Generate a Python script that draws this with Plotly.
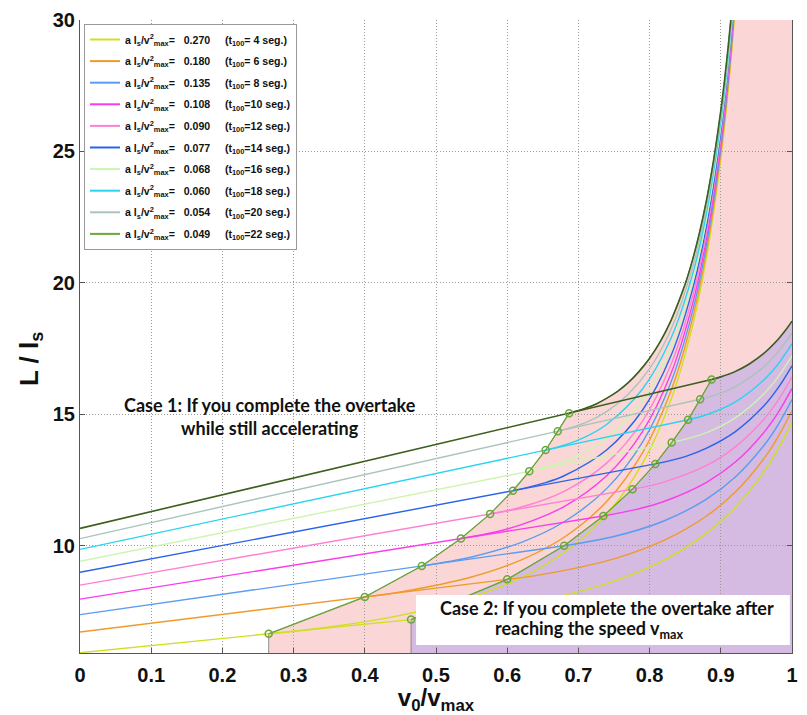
import plotly.graph_objects as go

# ---- data -------------------------------------------------------------
alpha = [0.270, 0.180, 0.135, 0.108, 0.090, 0.077, 0.068, 0.060, 0.054, 0.049]
t100 = [4, 6, 8, 10, 12, 14, 16, 18, 20, 22]
legend_colors = ["#cfe01e", "#ee9b2b", "#5a9cf0", "#fa3ced", "#ff80d4",
                 "#2a62ea", "#cdf5b0", "#2ad4f0", "#aac4bc", "#6aa83a"]
line_colors = ["#cfe01e", "#ee9b2b", "#5a9cf0", "#fa3ced", "#ff80d4",
               "#2a62ea", "#cdf5b0", "#2ad4f0", "#aac4bc", "#3b5f1c"]

# L/ls at v0 = 0
L_start = [5.94, 6.73, 7.39, 7.98, 8.51, 9.00, 9.42, 9.87, 10.28, 10.67]
# end of the accelerating regime (left circles)
acc_end_x = [0.265, 0.400, 0.480, 0.535, 0.576, 0.608, 0.631, 0.654, 0.671, 0.687]
acc_end_y = [6.66, 8.06, 9.24, 10.28, 11.22, 12.10, 12.84, 13.65, 14.36, 15.05]
# point where v_max is reached (right circles)
vmax_x = [0.465, 0.600, 0.680, 0.735, 0.776, 0.808, 0.831, 0.854, 0.871, 0.887]
vmax_y = [7.20, 8.73, 10.01, 11.14, 12.16, 13.12, 13.93, 14.80, 15.58, 16.33]

# steep branches starting at the left circles
rise_x = [
    [0.265, 0.35, 0.45, 0.55, 0.62, 0.68, 0.74, 0.79, 0.83, 0.86, 0.88, 0.90, 0.915, 0.93],
    [0.400, 0.45, 0.55, 0.62, 0.68, 0.74, 0.79, 0.83, 0.86, 0.88, 0.90, 0.915, 0.93],
    [0.480, 0.55, 0.62, 0.68, 0.74, 0.79, 0.83, 0.86, 0.88, 0.90, 0.915, 0.93],
    [0.535, 0.58, 0.62, 0.68, 0.74, 0.79, 0.83, 0.86, 0.88, 0.90, 0.915, 0.93],
    [0.576, 0.62, 0.68, 0.74, 0.79, 0.83, 0.86, 0.88, 0.90, 0.915, 0.93],
    [0.608, 0.65, 0.68, 0.74, 0.79, 0.83, 0.86, 0.88, 0.90, 0.915, 0.93],
    [0.631, 0.68, 0.71, 0.74, 0.79, 0.83, 0.86, 0.88, 0.90, 0.915, 0.93],
    [0.654, 0.68, 0.71, 0.74, 0.79, 0.83, 0.86, 0.88, 0.90, 0.915, 0.93],
    [0.671, 0.71, 0.74, 0.77, 0.80, 0.83, 0.86, 0.88, 0.90, 0.915, 0.93],
    [0.687, 0.70, 0.71, 0.725, 0.74, 0.755, 0.77, 0.785, 0.80, 0.815, 0.83, 0.85,
     0.86, 0.87, 0.88, 0.89, 0.90, 0.905, 0.91, 0.915, 0.92, 0.93],
]
rise_y = [
    [6.66, 6.92, 7.36, 8.05, 8.80, 9.75, 11.21, 13.14, 15.56, 18.34, 20.99, 24.73, 28.71, 34.42],
    [8.06, 8.25, 8.82, 9.47, 10.33, 11.70, 13.54, 15.90, 18.62, 21.23, 24.93, 28.88, 34.56],
    [9.24, 9.58, 10.14, 10.92, 12.19, 13.95, 16.23, 18.89, 21.47, 25.13, 29.05, 34.71],
    [10.28, 10.51, 10.81, 11.50, 12.68, 14.35, 16.56, 19.17, 21.71, 25.33, 29.23, 34.85],
    [11.22, 11.48, 12.08, 13.16, 14.75, 16.90, 19.45, 21.95, 25.54, 29.40, 34.99],
    [12.10, 12.38, 12.67, 13.66, 15.16, 17.23, 19.73, 22.19, 25.74, 29.58, 35.14],
    [12.84, 13.22, 13.59, 14.11, 15.54, 17.54, 19.99, 22.42, 25.93, 29.74, 35.27],
    [13.65, 13.83, 14.15, 14.63, 15.97, 17.90, 20.29, 22.67, 26.14, 29.92, 35.42],
    [14.36, 14.69, 15.12, 15.77, 16.74, 18.23, 20.57, 22.92, 26.35, 30.09, 35.57],
    [15.05, 15.15, 15.24, 15.40, 15.62, 15.88, 16.21, 16.63, 17.14, 17.77, 18.57, 19.96,
     20.85, 21.90, 23.16, 24.69, 26.55, 27.65, 28.88, 30.27, 31.85, 35.72],
]

# branches after v_max is reached (right circles up to v0 = v_max)
tail_x = [
    [0.465, 0.55, 0.65, 0.75, 0.82, 0.88, 0.92, 0.96, 0.98, 1.0],
    [0.600, 0.65, 0.75, 0.82, 0.88, 0.92, 0.96, 0.98, 1.0],
    [0.680, 0.75, 0.82, 0.88, 0.92, 0.96, 0.98, 1.0],
    [0.735, 0.78, 0.82, 0.88, 0.92, 0.96, 0.98, 1.0],
    [0.776, 0.82, 0.88, 0.92, 0.96, 0.98, 1.0],
    [0.808, 0.85, 0.88, 0.92, 0.96, 0.98, 1.0],
    [0.831, 0.88, 0.92, 0.96, 0.98, 1.0],
    [0.854, 0.88, 0.92, 0.96, 0.98, 1.0],
    [0.871, 0.90, 0.92, 0.96, 0.98, 1.0],
    [0.887, 0.90, 0.92, 0.94, 0.96, 0.98, 0.99, 1.0],
]
tail_y = [
    [7.20, 7.47, 7.93, 8.66, 9.46, 10.49, 11.46, 12.80, 13.67, 14.72],
    [8.73, 8.92, 9.51, 10.21, 11.14, 12.04, 13.30, 14.13, 15.15],
    [10.01, 10.36, 10.95, 11.78, 12.61, 13.80, 14.59, 15.57],
    [11.14, 11.38, 11.69, 12.42, 13.18, 14.30, 15.05, 15.99],
    [12.16, 12.43, 13.06, 13.76, 14.80, 15.52, 16.42],
    [13.12, 13.40, 13.72, 14.34, 15.31, 15.99, 16.85],
    [13.93, 14.31, 14.87, 15.77, 16.41, 17.24],
    [14.80, 14.99, 15.47, 16.30, 16.90, 17.69],
    [15.58, 15.81, 16.05, 16.80, 17.37, 18.11],
    [16.33, 16.43, 16.63, 16.92, 17.31, 17.84, 18.17, 18.55],
]

Y_MIN, Y_MAX = 5.93, 30.0
FONT = "Arial, Liberation Sans, sans-serif"
TEXT_FONT = "Lato, Open Sans, sans-serif"

fig = go.Figure()


def path_from(xs, ys):
    pts = " L ".join(f"{x},{y}" for x, y in zip(xs, ys))
    return "M " + pts + " Z"


# shaded regions (drawn under the grid)
pink_x = [acc_end_x[0]] + acc_end_x + rise_x[-1][1:] + [1.05, 1.05]
pink_y = [Y_MIN - 1] + acc_end_y + rise_y[-1][1:] + [rise_y[-1][-1], Y_MIN - 1]
purple_x = [vmax_x[0]] + vmax_x + tail_x[-1][1:] + [1.05, 1.05]
purple_y = [Y_MIN - 1] + vmax_y + tail_y[-1][1:] + [tail_y[-1][-1], Y_MIN - 1]

shapes = [
    dict(type="path", xref="x", yref="y", layer="below",
         path=path_from(pink_x, pink_y), fillcolor="rgb(251,214,214)",
         line=dict(color="rgba(120,120,120,0.8)", width=1)),
    dict(type="path", xref="x", yref="y", layer="below",
         path=path_from(purple_x, purple_y), fillcolor="rgb(213,186,225)",
         line=dict(color="rgba(120,120,120,0.8)", width=1)),
]

# curves
for i in range(len(alpha)):
    c = line_colors[i]
    w = 1.6 if i == len(alpha) - 1 else 1.4
    # straight part: v0 = 0 through both circles
    fig.add_trace(go.Scatter(
        x=[0, acc_end_x[i], vmax_x[i]], y=[L_start[i], acc_end_y[i], vmax_y[i]],
        mode="lines", line=dict(color=c, width=w), showlegend=False, hoverinfo="skip"))
    # tail after v_max
    fig.add_trace(go.Scatter(
        x=tail_x[i], y=tail_y[i], mode="lines",
        line=dict(color=c, width=w, shape="spline"), showlegend=False, hoverinfo="skip"))
    # steep branch
    fig.add_trace(go.Scatter(
        x=rise_x[i], y=rise_y[i], mode="lines",
        line=dict(color=c, width=w, shape="spline"), showlegend=False, hoverinfo="skip"))

# boundaries with circles
for bx, by in ((acc_end_x, acc_end_y), (vmax_x, vmax_y)):
    fig.add_trace(go.Scatter(
        x=bx, y=by, mode="lines+markers",
        line=dict(color="#6aa83a", width=1.3),
        marker=dict(symbol="circle-open", size=7, color="#6aa83a", line=dict(width=1.5)),
        showlegend=False, hoverinfo="skip"))

# legend entries
NB = "\u00a0"
for i in range(len(alpha)):
    pad = NB if t100[i] < 10 else ""
    name = (f"a l<sub>s</sub>/v<sup>2</sup><sub>max</sub>={NB}{NB} {alpha[i]:.3f}"
            f"{NB}{NB}{NB}{NB} (t<sub>100</sub>={pad}{t100[i]} seg.)")
    fig.add_trace(go.Scatter(
        x=[None], y=[None], mode="lines", name=name, legendgroup=str(i),
        line=dict(color=legend_colors[i], width=2)))

# white label box for case 2
shapes.append(dict(type="rect", xref="x", yref="y", layer="above",
                   x0=0.472, x1=0.997, y0=6.236, y1=8.137,
                   fillcolor="white", line=dict(color="white", width=0)))

annotations = [
    dict(x=0.267, y=14.94, xref="x", yref="y", showarrow=False, align="center",
         text="Case 1: If you complete the overtake<br>while still accelerating",
         font=dict(family=TEXT_FONT, size=18, color="#111", weight="bold")),
    dict(x=0.7404, y=7.643, xref="x", yref="y", showarrow=False,
         text="Case 2: If you complete the overtake after",
         font=dict(family=TEXT_FONT, size=18, color="#111", weight="bold")),
    dict(x=0.7154, y=6.806, xref="x", yref="y", showarrow=False,
         text="reaching the speed v<sub>max</sub>",
         font=dict(family=TEXT_FONT, size=18, color="#111", weight="bold")),
    # y-axis title
    dict(x=-0.0696, y=0.465, xref="paper", yref="paper", showarrow=False,
         xanchor="center", yanchor="middle",
         textangle=-90, text="L / l<sub>s</sub>",
         font=dict(family=FONT, size=26, color="#111", weight="bold")),
]

GRID = dict(showgrid=True, gridcolor="#9a9a9a", griddash="1px,2px", gridwidth=1)

fig.update_layout(
    width=807, height=715,
    margin=dict(l=80, r=9, t=20, b=62),
    paper_bgcolor="white", plot_bgcolor="white",
    shapes=shapes, annotations=annotations,
    font=dict(family=FONT, color="#111"),
    showlegend=True,
    legend=dict(x=0.0056, y=0.9937, xanchor="left", yanchor="top",
                bgcolor="white", bordercolor="#999", borderwidth=1,
                font=dict(family=FONT, size=10.6, color="#111", weight="bold"),
                itemwidth=30, tracegroupgap=2.6),
)
fig.update_xaxes(
    range=[0, 1], dtick=0.1, tick0=0, **GRID,
    showline=True, linecolor="#555", linewidth=1, zeroline=False,
    ticks="inside", ticklen=5, tickcolor="#555", ticklabelstandoff=4,
    tickfont=dict(family=FONT, size=20, weight="bold", color="#111"),
    title=dict(text="v<sub>0</sub>/v<sub>max</sub>", standoff=2,
               font=dict(family=FONT, size=24, weight="bold", color="#111")),
)
fig.update_yaxes(
    range=[Y_MIN, Y_MAX], dtick=5, tick0=0, **GRID,
    showline=True, linecolor="#555", linewidth=1, mirror="ticks", zeroline=False,
    ticks="inside", ticklen=5, tickcolor="#555",
    tickfont=dict(family=FONT, size=20, weight="bold", color="#111"),
)

fig.write_html("out.html")
